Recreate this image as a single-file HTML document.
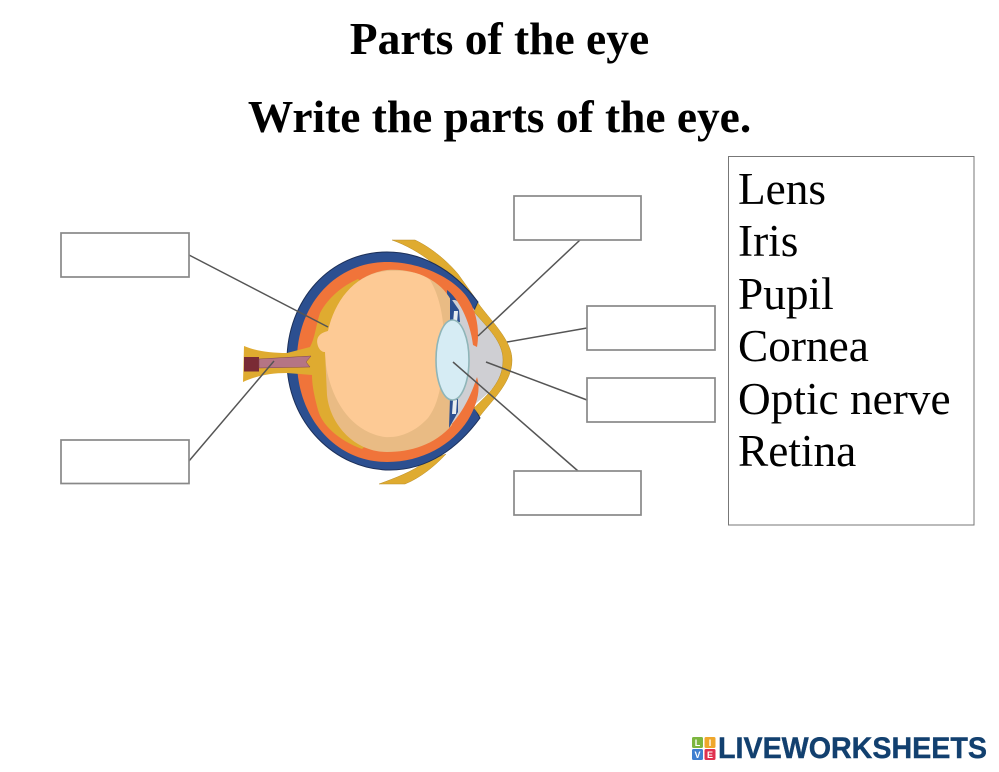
<!DOCTYPE html>
<html><head><meta charset="utf-8"><style>html,body{margin:0;padding:0;background:#fff;width:999px;height:772px;overflow:hidden}svg{display:block}</style></head><body>
<svg width="999" height="772" viewBox="0 0 999 772" xmlns="http://www.w3.org/2000/svg">
<g font-family="'Liberation Serif',serif" fill="#000">
<text x="499.5" y="54" text-anchor="middle" font-size="45.5" font-weight="bold">Parts of the eye</text>
<text x="499.5" y="132" text-anchor="middle" font-size="45.4" font-weight="bold">Write the parts of the eye.</text>
</g>
<rect x="728.5" y="156.5" width="245.5" height="368.5" fill="#fff" stroke="#777" stroke-width="1"/>
<g font-family="'Liberation Serif',serif" font-size="45.3" fill="#000">
<text x="738" y="204">Lens</text>
<text x="738" y="256">Iris</text>
<text x="738" y="309">Pupil</text>
<text x="738" y="361">Cornea</text>
<text x="738" y="414">Optic nerve</text>
<text x="738" y="466">Retina</text>
</g>
<!-- flaps -->
<path d="M392 240 L415 240 C432 248 448 262 458 274 L478 302 L465 296 C445 270 420 250 392 240Z" fill="#dfab30" stroke="#b98d28" stroke-width=".5"/>
<path d="M379 484 L405 484 C420 478 435 466 446 454 L425 462 C412 472 395 478 379 484Z" fill="#dfab30" stroke="#b98d28" stroke-width=".5"/>
<!-- sclera blue -->
<path d="M478 302 C452 268 420 252 387 252 C330 252 287 300 287 361 C287 422 335 470 390 470 C428 470 458 448 480 418 L450 361Z" fill="#2c4f90" stroke="#1c2f58" stroke-width="1"/>
<!-- aqueous -->
<path d="M455 300 L473 308 C490 330 504 345 504 360 C504 380 490 392 474 405 L462 425 L445 425 L445 300Z" fill="#cfcfd3"/>
<!-- cornea -->
<path d="M478 303 C490 320 512 340 512 360 C512 382 494 398 480 416 L474 408 C488 394 503 382 503 360 C503 342 488 328 474 312Z" fill="#dfab30" stroke="#b98d28" stroke-width=".5"/>
<!-- choroid orange -->
<path d="M477 347 C480 330 476 312 470 302 C460 282 425 262 387 262 C335 262 297 305 297 361 C297 417 335 462 387 462 C422 462 452 445 468 420 C477 405 481 390 477 377 C472 392 464 412 448 428 L447 290 C458 298 470 320 473 345 Z" fill="#f0743a"/>
<!-- retina and optic nerve -->
<path d="M244 346 C256 351 270 353 287 353 L310 347 C315 338 316 325 320 313 C328 298 342 286 358 279 L372 290 L372 440 L362 449 C338 440 322 425 318 410 C314 395 312 385 312 375 L287 373 C270 373 256 376 243 382Z" fill="#dfab30"/>
<!-- vitreous -->
<path d="M387 270 C415 268 440 280 451 300 L452 425 C435 445 410 452 387 452 C355 452 330 425 327 395 L325 352 C318 352 315 340 319 336 C321 333 325 332 328 331 C335 300 355 274 387 270Z" fill="#e9bb84"/>
<path d="M387 271 C405 270 420 272 430 280 C442 300 446 330 443 360 C442 385 438 405 428 418 C415 432 400 438 385 437 C355 433 332 405 326 365 L325 352 C318 352 315 340 319 336 C321 333 325 332 328 331 C335 300 355 274 387 271Z" fill="#fdca95"/>
<!-- ciliary -->
<path d="M450 297 L459 310 L460 322 L450 322Z" fill="#2c4f90"/>
<path d="M454 311 L458 311 L457 323 L453 323Z" fill="#e8edf0"/>
<path d="M449 428 L458 412 L458 398 L450 398Z" fill="#2c4f90"/>
<path d="M453 400 L457 400 L456 414 L452 414Z" fill="#e8edf0"/>
<!-- lens -->
<ellipse cx="452.500" cy="360" rx="16.500" ry="40" fill="#d6ecf4" stroke="#8fb5b8" stroke-width="1.600"/>
<!-- nerve -->
<rect x="244" y="357" width="15" height="14.500" fill="#7a2b35"/>
<path d="M259 359 L311 356 L306 362 L310 367 L259 368Z" fill="#b57584" stroke="#7d4552" stroke-width=".5"/>
<!-- connectors -->
<g stroke="#555" stroke-width="1.500" fill="none">
<line x1="189" y1="255" x2="328" y2="327"/>
<line x1="189" y1="461" x2="274" y2="361"/>
<line x1="580" y1="240" x2="478" y2="336"/>
<line x1="587" y1="328" x2="507" y2="342"/>
<line x1="587" y1="400" x2="486" y2="362"/>
<line x1="578" y1="471" x2="453" y2="362"/>
</g>
<!-- boxes -->
<g fill="#fff" stroke="#888" stroke-width="1.700">
<rect x="61" y="233" width="128" height="44"/>
<rect x="61" y="440" width="128" height="43.500"/>
<rect x="514" y="196" width="127" height="44"/>
<rect x="587" y="306" width="128" height="44"/>
<rect x="587" y="378" width="128" height="44"/>
<rect x="514" y="471" width="127" height="44"/>
</g>
<!-- logo -->
<rect x="692" y="737" width="11" height="11" rx="1.500" fill="#7cb63f"/>
<rect x="704.500" y="737" width="11" height="11" rx="1.500" fill="#efa72c"/>
<rect x="692" y="749" width="11" height="11" rx="1.500" fill="#3f7fd0"/>
<rect x="704.500" y="749" width="11" height="11" rx="1.500" fill="#e0304e"/>
<g font-family="'Liberation Sans',sans-serif" font-size="9" font-weight="bold" fill="#fff" text-anchor="middle">
<text x="697.500" y="746">L</text><text x="710" y="746">I</text><text x="697.500" y="758">V</text><text x="710" y="758">E</text>
</g>
<text x="718" y="758" font-family="'Liberation Sans',sans-serif" font-size="29.500" font-weight="bold" fill="#12406f" stroke="#12406f" stroke-width=".4" textLength="269" lengthAdjust="spacingAndGlyphs">LIVEWORKSHEETS</text>
</svg>
</body></html>
